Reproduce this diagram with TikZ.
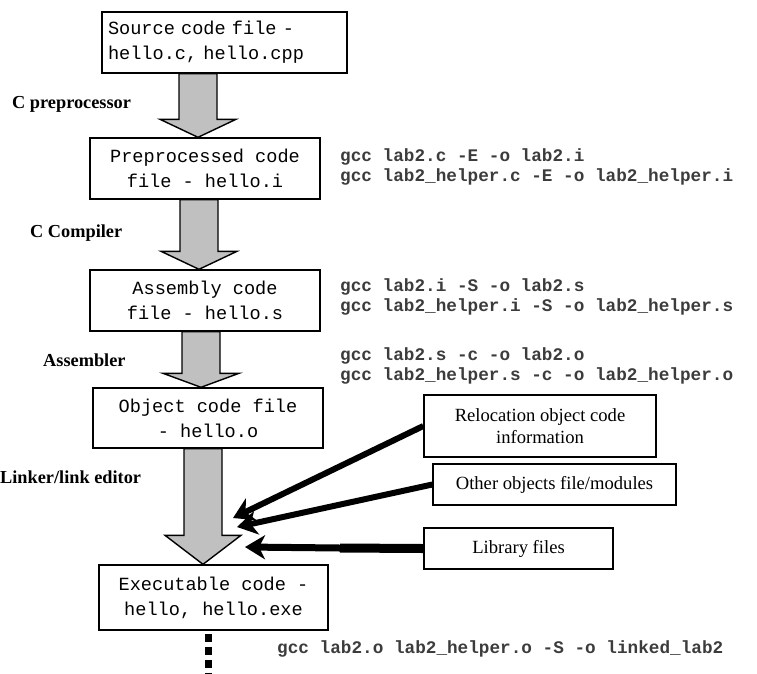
\documentclass[tikz,border=0pt]{standalone}
\usepackage{fontspec}
\setmainfont{Liberation Serif}
\setmonofont{Liberation Mono}
\usetikzlibrary{arrows.meta,calc}
\definecolor{arrowgray}{RGB}{192,192,192}
\definecolor{cmdgray}{RGB}{60,60,60}
\tikzset{
  codebox/.style={draw, line width=1.4pt, inner sep=0pt, align=center,
    font=\ttfamily\fontsize{18.6}{25}\selectfont},
  cmdtext/.style={anchor=west, inner sep=0pt, align=left, text=cmdgray,
    font=\ttfamily\bfseries\fontsize{17.7}{20}\selectfont},
  steplabel/.style={anchor=west, inner sep=0pt,
    font=\bfseries\fontsize{18.3}{20}\selectfont},
  infobox/.style={draw, line width=1.4pt, inner sep=0pt, align=center,
    font=\fontsize{18.6}{22}\selectfont},
  bigarrow/.style={draw, line width=1.4pt, fill=arrowgray, line join=miter},
  feed/.style={line width=6pt, -{Stealth[length=20pt, width=24pt, inset=6pt]}},
}
\newcommand\blockarr[4]{%
  \draw[bigarrow] let \p1=(#2.south), \p2=(#3.north) in
    (#1pt-19pt,\y1) -- (#1pt-19pt,\y2+#4pt) -- (#1pt-38pt,\y2+#4pt) -- (#1pt,\y2)
    -- (#1pt+38pt,\y2+#4pt) -- (#1pt+19pt,\y2+#4pt) -- (#1pt+19pt,\y1) -- cycle;}
\begin{document}
\begin{tikzpicture}[x=1pt,y=-1pt]
\useasboundingbox (0,0) rectangle (757,673);
% main flow boxes
\node[codebox, align=left, text width=233pt, inner xsep=6pt, minimum height=61pt] (b1) at (224.5,42.5) {Source code file -\\hello.c, hello.cpp};
\node[codebox, minimum width=230pt, minimum height=61pt] (b2) at (205,168.5) {Preprocessed code\\file - hello.i};
\node[codebox, minimum width=230pt, minimum height=61pt] (b3) at (205,300.5) {Assembly code\\file - hello.s};
\node[codebox, minimum width=230pt, minimum height=60pt] (b4) at (208,418) {Object code file\\- hello.o};
\node[codebox, minimum width=229pt, minimum height=65pt] (b5) at (213.5,597.5) {Executable code -\\hello, hello.exe};
% block arrows
\blockarr{198}{b1}{b2}{18}
\blockarr{199}{b2}{b3}{18}
\blockarr{201}{b3}{b4}{14}
\blockarr{203}{b4}{b5}{29}
% step labels
\node[steplabel] (lpre) at (12,104) {C preprocessor};
\node[steplabel] (lcomp) at (30,233) {C Compiler};
\node[steplabel] (lasm) at (43,360) {Assembler};
\node[steplabel] (llink) at (0,477) {Linker/link editor};
% commands
\node[cmdtext] (c1) at (340,167) {gcc lab2.c -E -o lab2.i\\gcc lab2\_helper.c -E -o lab2\_helper.i};
\node[cmdtext] (c2) at (340,297) {gcc lab2.i -S -o lab2.s\\gcc lab2\_helper.i -S -o lab2\_helper.s};
\node[cmdtext] (c3) at (340,366) {gcc lab2.s -c -o lab2.o\\gcc lab2\_helper.s -c -o lab2\_helper.o};
\node[cmdtext] (c4) at (277,649) {gcc lab2.o lab2\_helper.o -S -o linked\_lab2};
% input boxes
\node[infobox, minimum width=232pt, minimum height=62pt] (rel) at (540,426) {Relocation object code\\information};
\node[infobox, minimum width=243pt, minimum height=41pt] (oth) at (554.5,484.5) {Other objects file/modules};
\node[infobox, minimum width=189pt, minimum height=41pt] (lib) at (518.5,548.5) {Library files};
% feed arrows
\coordinate (tR) at (233,518);
\coordinate (tO) at (237,527);
\coordinate (kL) at (340,548);
\coordinate (tL) at (245,547);
\draw[feed] (rel.west) -- (tR);
\draw[feed] (oth.west) -- (tO);
\draw[line width=9pt] (lib.west) -- (kL);
\draw[feed, line width=7pt] (kL) -- (tL);
% continuation
\coordinate (dend) at (208.5,673);
\draw[line width=7pt, dash pattern=on 8pt off 5pt]
  let \p1=(b5.south), \p2=(dend) in (\x2,\y1-3pt) -- (dend);
\end{tikzpicture}
\end{document}
